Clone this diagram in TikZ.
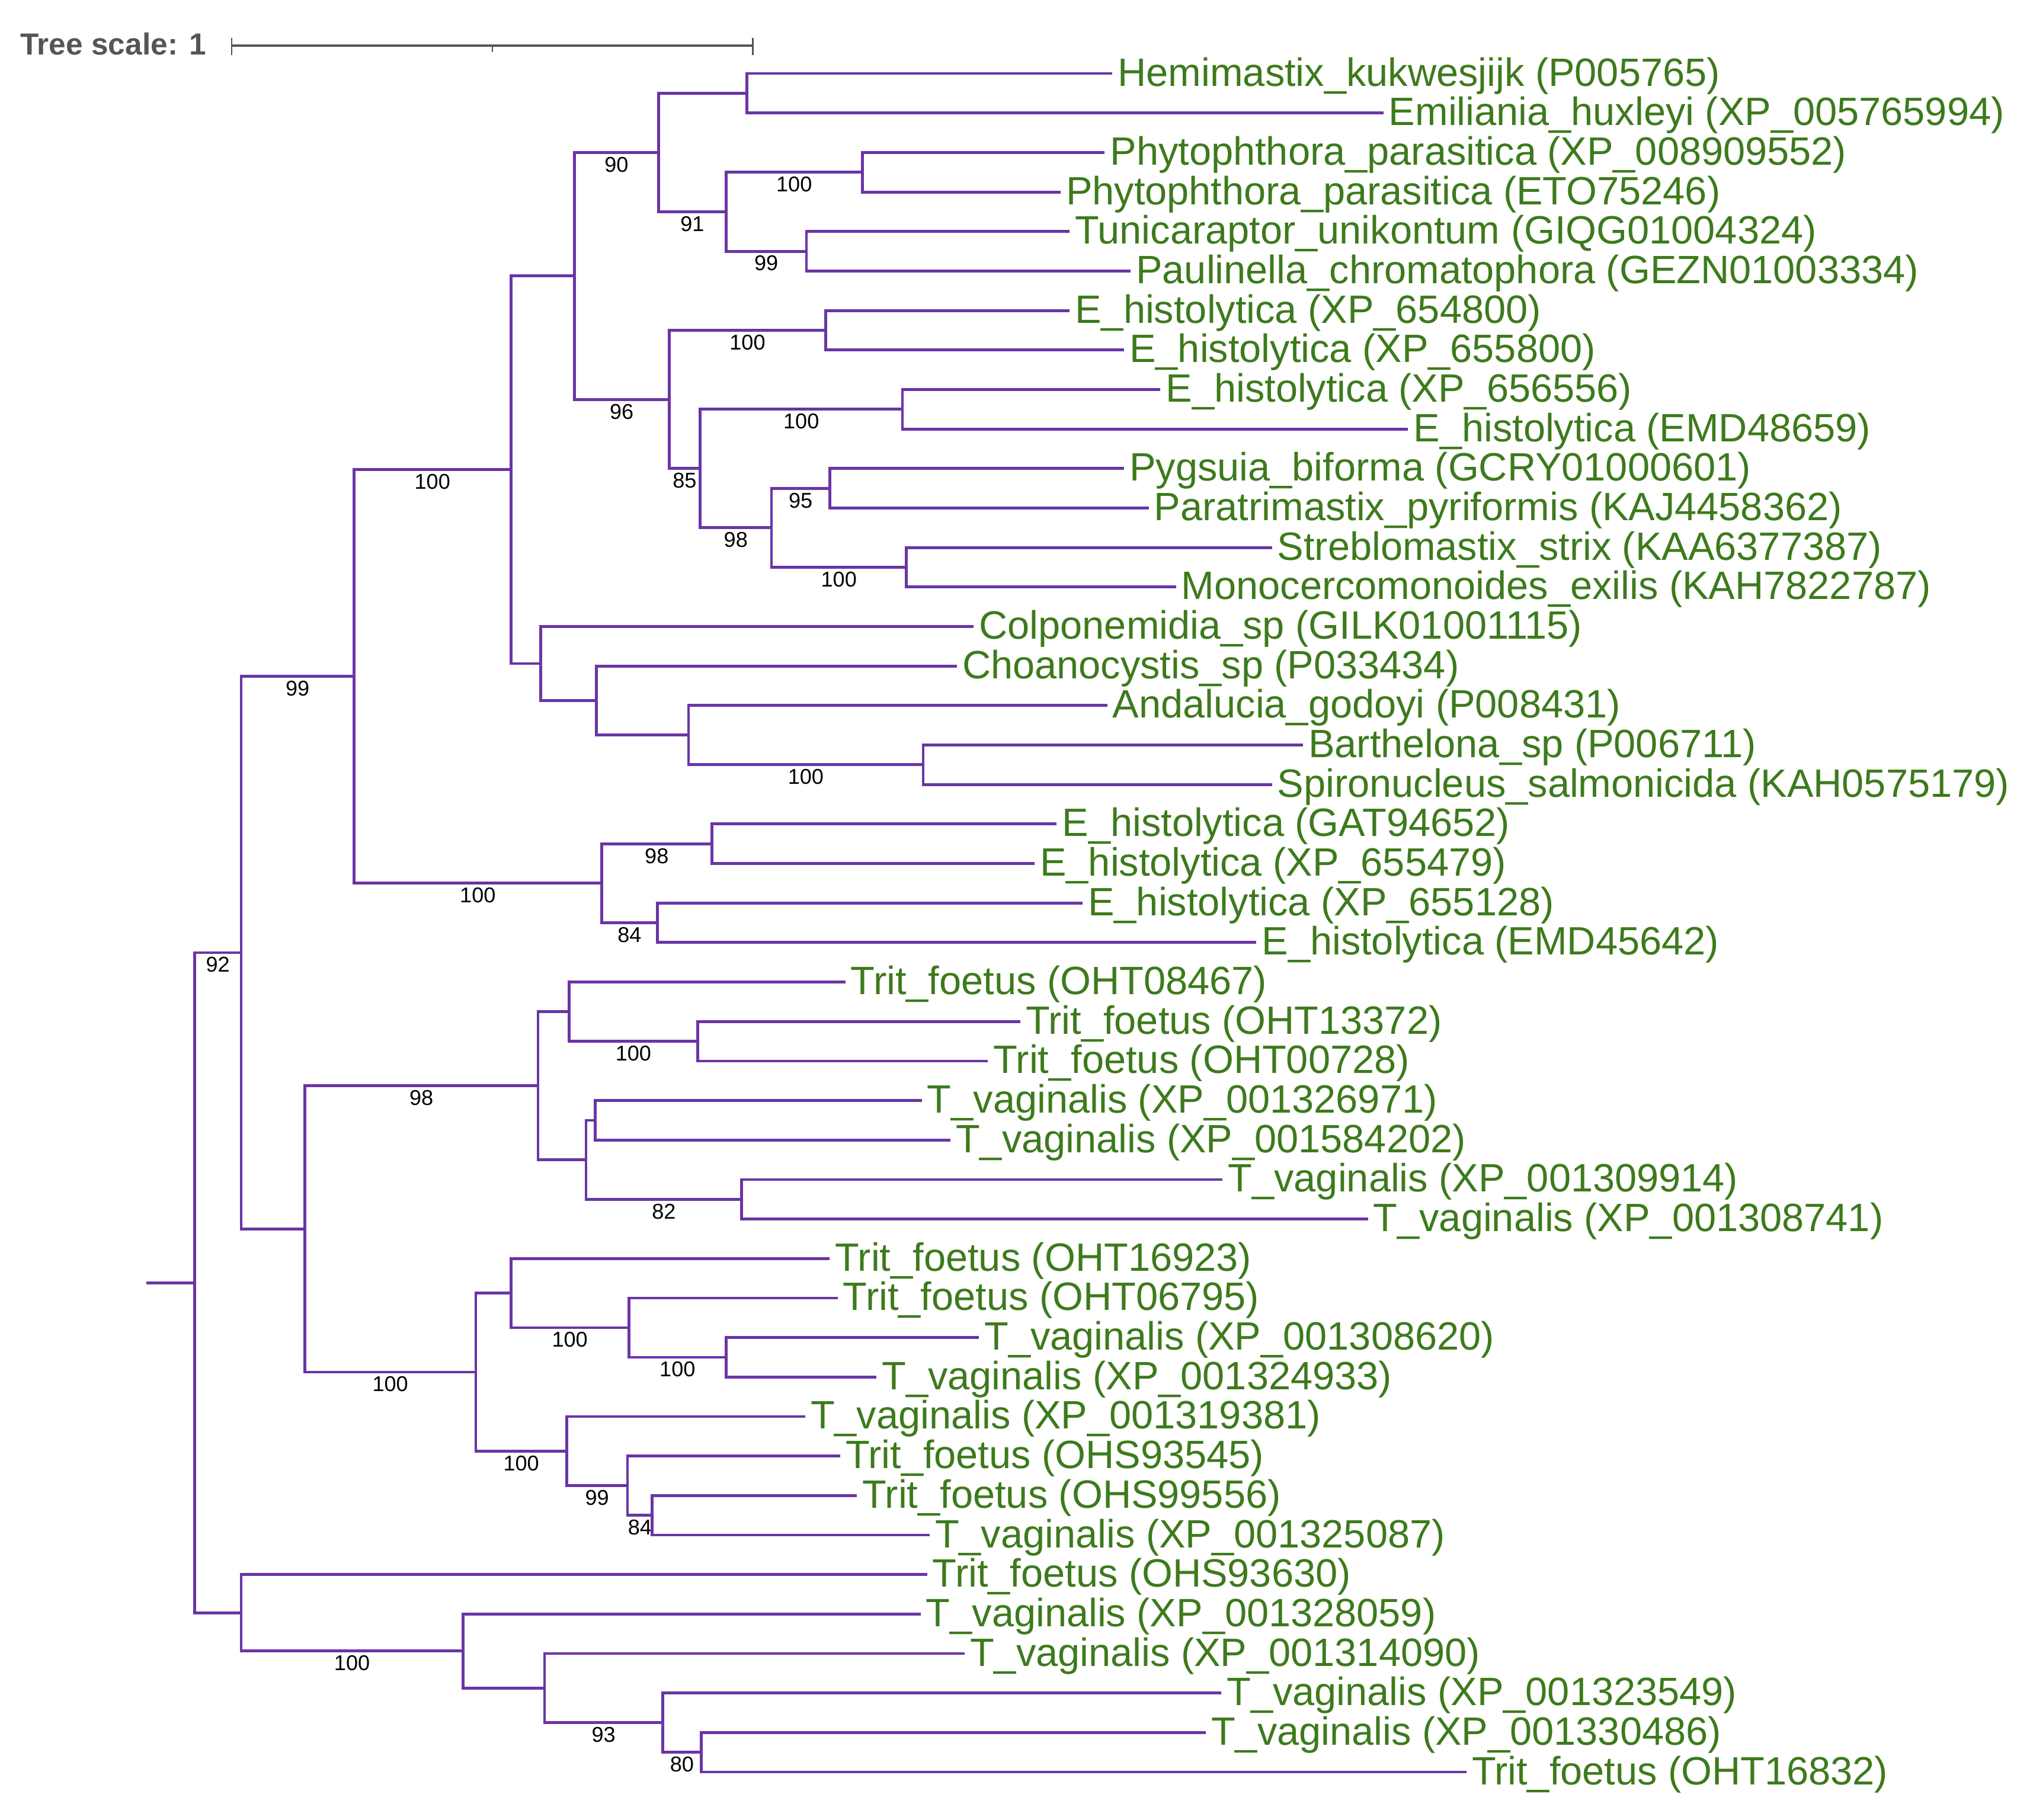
\documentclass[tikz,border=0pt]{standalone}
\usepackage{fontspec}
\setmainfont{Liberation Sans}
\usetikzlibrary{calc}
\definecolor{branch}{HTML}{6A35A6}
\definecolor{leafgreen}{HTML}{3D7A1C}
\definecolor{scalegray}{HTML}{555555}
\begin{document}
\begin{tikzpicture}[x=1pt,y=-1pt,
  br/.style={draw=branch,line width=2.2pt,line join=miter,line cap=butt},
  leaf/.style={anchor=base west,inner sep=0pt,xshift=4pt,yshift=-9.6pt,text=leafgreen,font=\fontsize{30.5}{36}\selectfont},
  boot/.style={anchor=north,inner sep=0pt,yshift=-2.4pt,text=black,font=\fontsize{16.5}{20}\selectfont}]
\useasboundingbox (0,0) rectangle (1568,1403.5);

% tree scale
\node[anchor=base west,inner sep=0pt,text=scalegray,font=\bfseries\fontsize{23.5}{28}\selectfont] (ts) at (15.5,42.4) {Tree scale: 1};
\coordinate (s0) at (178.7,35.3);
\coordinate (sm) at (379.7,35.3);
\coordinate (s1) at (580.7,35.3);
\draw[scalegray,line width=1.8pt] (s0) -- (s1);
\draw[scalegray,line width=1.2pt] ([yshift=5.9pt]s0) -- ([yshift=-7.1pt]s0);
\draw[scalegray,line width=1.2pt] ([yshift=5.9pt]s1) -- ([yshift=-7.1pt]s1);
\draw[scalegray,line width=1.2pt] (sm) -- ([yshift=-5.1pt]sm);

% leaves
\foreach \i/\x/\t in {
 1/858/{Hemimastix\_kukwesjijk (P005765)},
 2/1067/{Emiliania\_huxleyi (XP\_005765994)},
 3/852/{Phytophthora\_parasitica (XP\_008909552)},
 4/818/{Phytophthora\_parasitica (ETO75246)},
 5/825/{Tunicaraptor\_unikontum (GIQG01004324)},
 6/872/{Paulinella\_chromatophora (GEZN01003334)},
 7/825/{E\_histolytica (XP\_654800)},
 8/867/{E\_histolytica (XP\_655800)},
 9/895/{E\_histolytica (XP\_656556)},
 10/1086/{E\_histolytica (EMD48659)},
 11/867/{Pygsuia\_biforma (GCRY01000601)},
 12/886/{Paratrimastix\_pyriformis (KAJ4458362)},
 13/981/{Streblomastix\_strix (KAA6377387)},
 14/907/{Monocercomonoides\_exilis (KAH7822787)},
 15/751/{Colponemidia\_sp (GILK01001115)},
 16/738/{Choanocystis\_sp (P033434)},
 17/854/{Andalucia\_godoyi (P008431)},
 18/1005/{Barthelona\_sp (P006711)},
 19/981/{Spironucleus\_salmonicida (KAH0575179)},
 20/815/{E\_histolytica (GAT94652)},
 21/798/{E\_histolytica (XP\_655479)},
 22/835/{E\_histolytica (XP\_655128)},
 23/969/{E\_histolytica (EMD45642)},
 24/652/{Trit\_foetus (OHT08467)},
 25/787/{Trit\_foetus (OHT13372)},
 26/762/{Trit\_foetus (OHT00728)},
 27/711/{T\_vaginalis (XP\_001326971)},
 28/733/{T\_vaginalis (XP\_001584202)},
 29/943/{T\_vaginalis (XP\_001309914)},
 30/1055/{T\_vaginalis (XP\_001308741)},
 31/640/{Trit\_foetus (OHT16923)},
 32/646/{Trit\_foetus (OHT06795)},
 33/755/{T\_vaginalis (XP\_001308620)},
 34/676/{T\_vaginalis (XP\_001324933)},
 35/621/{T\_vaginalis (XP\_001319381)},
 36/648/{Trit\_foetus (OHS93545)},
 37/661/{Trit\_foetus (OHS99556)},
 38/717/{T\_vaginalis (XP\_001325087)},
 39/715/{Trit\_foetus (OHS93630)},
 40/710/{T\_vaginalis (XP\_001328059)},
 41/744/{T\_vaginalis (XP\_001314090)},
 42/942/{T\_vaginalis (XP\_001323549)},
 43/930/{T\_vaginalis (XP\_001330486)},
 44/1131/{Trit\_foetus (OHT16832)}} {
  \coordinate (L\i) at (\x,{56.7+30.47*(\i-1)});
  \node[leaf] (T\i) at (L\i) {\t};
}

% internal nodes
\coordinate (K) at (576,71.935);
\coordinate (M) at (665,132.875);
\coordinate (N) at (622,193.815);
\coordinate (LL) at (560,163.345);
\coordinate (I) at (508,117.64);
\coordinate (O) at (637,254.755);
\coordinate (Q) at (696,315.695);
\coordinate (T) at (640,376.635);
\coordinate (U) at (699,437.575);
\coordinate (S) at (595,407.105);
\coordinate (P) at (540,361.40);
\coordinate (J) at (516,308.0775);
\coordinate (G) at (443,212.859);
\coordinate (X) at (712,589.925);
\coordinate (W) at (531,567.0725);
\coordinate (V) at (460,540.411);
\coordinate (H) at (417,511.846);
\coordinate (E) at (394,362.352);
\coordinate (Y) at (549,650.865);
\coordinate (Z) at (507,711.805);
\coordinate (F) at (464,681.335);
\coordinate (C) at (273,521.844);
\coordinate (AE) at (538,803.215);
\coordinate (AC) at (439,780.3625);
\coordinate (AF) at (459,864.155);
\coordinate (AG) at (572,925.095);
\coordinate (AD) at (452,894.625);
\coordinate (AA) at (415,837.494);
\coordinate (AK) at (560,1046.975);
\coordinate (AJ) at (485,1024.1225);
\coordinate (AH) at (394,997.461);
\coordinate (AM) at (503,1168.855);
\coordinate (AL) at (484,1146.0025);
\coordinate (AI) at (437,1119.341);
\coordinate (AB) at (367,1058.401);
\coordinate (D) at (235,947.9475);
\coordinate (A) at (186,734.896);
\coordinate (AQ) at (541,1351.675);
\coordinate (AP) at (511,1328.8225);
\coordinate (AO) at (420,1302.161);
\coordinate (AN) at (357,1273.596);
\coordinate (B) at (186,1244.078);
\coordinate (R) at (150,989.487);
\coordinate (R0) at (113,989.487);

% branches
\draw[br] (R0) -- (R);
\draw[br] (R) |- (A) node[boot,pos=.75] {92};
\draw[br] (R) |- (B);
\draw[br] (A) |- (C) node[boot,pos=.75] {99};
\draw[br] (A) |- (D);
\draw[br] (C) |- (E) node[boot,pos=.75] {100};
\draw[br] (C) |- (F) node[boot,pos=.75] {100};
\draw[br] (E) |- (G);
\draw[br] (E) |- (H);
\draw[br] (G) |- (I) node[boot,pos=.75] {90};
\draw[br] (G) |- (J) node[boot,pos=.75] {96};
\draw[br] (I) |- (K);
\draw[br] (I) |- (LL) node[boot,pos=.75] {91};
\draw[br] (K) |- (L1);
\draw[br] (K) |- (L2);
\draw[br] (LL) |- (M) node[boot,pos=.75] {100};
\draw[br] (LL) |- (N) node[boot,pos=.75] {99};
\draw[br] (M) |- (L3);
\draw[br] (M) |- (L4);
\draw[br] (N) |- (L5);
\draw[br] (N) |- (L6);
\draw[br] (J) |- (O) node[boot,pos=.75] {100};
\draw[br] (J) |- (P) node[boot,pos=.75] {85};
\draw[br] (O) |- (L7);
\draw[br] (O) |- (L8);
\draw[br] (P) |- (Q) node[boot,pos=.75] {100};
\draw[br] (P) |- (S) node[boot,pos=.75] {98};
\draw[br] (Q) |- (L9);
\draw[br] (Q) |- (L10);
\draw[br] (S) |- (T) node[boot,pos=.75] {95};
\draw[br] (S) |- (U) node[boot,pos=.75] {100};
\draw[br] (T) |- (L11);
\draw[br] (T) |- (L12);
\draw[br] (U) |- (L13);
\draw[br] (U) |- (L14);
\draw[br] (H) |- (L15);
\draw[br] (H) |- (V);
\draw[br] (V) |- (L16);
\draw[br] (V) |- (W);
\draw[br] (W) |- (L17);
\draw[br] (W) |- (X) node[boot,pos=.75] {100};
\draw[br] (X) |- (L18);
\draw[br] (X) |- (L19);
\draw[br] (F) |- (Y) node[boot,pos=.75] {98};
\draw[br] (F) |- (Z) node[boot,pos=.75] {84};
\draw[br] (Y) |- (L20);
\draw[br] (Y) |- (L21);
\draw[br] (Z) |- (L22);
\draw[br] (Z) |- (L23);
\draw[br] (D) |- (AA) node[boot,pos=.75] {98};
\draw[br] (D) |- (AB) node[boot,pos=.75] {100};
\draw[br] (AA) |- (AC);
\draw[br] (AA) |- (AD);
\draw[br] (AC) |- (L24);
\draw[br] (AC) |- (AE) node[boot,pos=.75] {100};
\draw[br] (AE) |- (L25);
\draw[br] (AE) |- (L26);
\draw[br] (AD) |- (AF);
\draw[br] (AD) |- (AG) node[boot,pos=.75] {82};
\draw[br] (AF) |- (L27);
\draw[br] (AF) |- (L28);
\draw[br] (AG) |- (L29);
\draw[br] (AG) |- (L30);
\draw[br] (AB) |- (AH);
\draw[br] (AB) |- (AI) node[boot,pos=.75] {100};
\draw[br] (AH) |- (L31);
\draw[br] (AH) |- (AJ) node[boot,pos=.75] {100};
\draw[br] (AJ) |- (L32);
\draw[br] (AJ) |- (AK) node[boot,pos=.75] {100};
\draw[br] (AK) |- (L33);
\draw[br] (AK) |- (L34);
\draw[br] (AI) |- (L35);
\draw[br] (AI) |- (AL) node[boot,pos=.75] {99};
\draw[br] (AL) |- (L36);
\draw[br] (AL) |- (AM) node[boot,pos=.75] {84};
\draw[br] (AM) |- (L37);
\draw[br] (AM) |- (L38);
\draw[br] (B) |- (L39);
\draw[br] (B) |- (AN) node[boot,pos=.75] {100};
\draw[br] (AN) |- (L40);
\draw[br] (AN) |- (AO);
\draw[br] (AO) |- (L41);
\draw[br] (AO) |- (AP) node[boot,pos=.75] {93};
\draw[br] (AP) |- (L42);
\draw[br] (AP) |- (AQ) node[boot,pos=.75] {80};
\draw[br] (AQ) |- (L43);
\draw[br] (AQ) |- (L44);
\end{tikzpicture}
\end{document}
